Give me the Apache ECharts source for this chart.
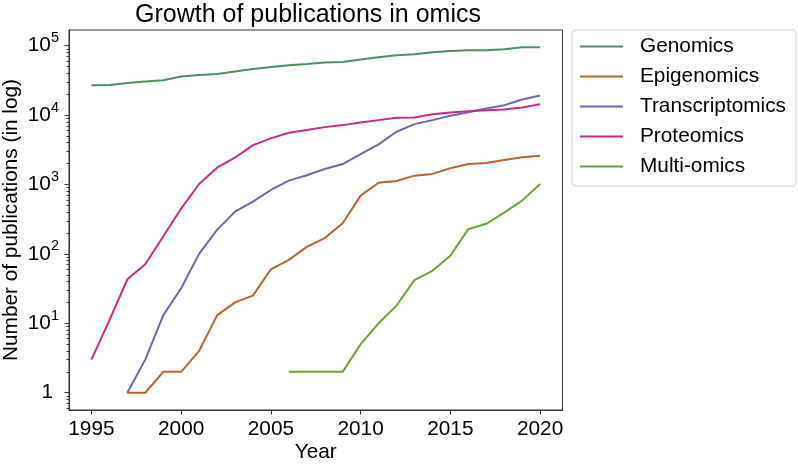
<!DOCTYPE html>
<html>
<head>
<meta charset="utf-8">
<script src="https://cdn.jsdelivr.net/npm/echarts@6/dist/echarts.min.js"></script>
<style>
html,body{margin:0;padding:0;background:#fff;}
#chart{width:798px;height:465px;}
</style>
</head>
<body>
<div id="chart"></div>
<script>
// ---- data ----
var years = [1995,1996,1997,1998,1999,2000,2001,2002,2003,2004,2005,2006,2007,2008,2009,2010,2011,2012,2013,2014,2015,2016,2017,2018,2019,2020];
var genomics = [26900,27000,29000,30400,31700,35900,37800,39100,42300,46100,49300,52100,54400,57000,58200,63000,67900,72600,75000,80100,83700,85600,85600,88500,94600,94600];
var epigenomics = [null,null,1,1,2,2,4,13,20,25,60,82,126,169,277,690,1060,1120,1340,1420,1710,1970,2035,2250,2460,2590];
var transcriptomics = [null,null,1,3,13,32,100,222,406,566,833,1135,1360,1670,1970,2740,3780,5740,7400,8450,9740,11000,12440,13870,16740,19130];
var proteomics = [3,11,43,71,178,450,1016,1742,2426,3690,4610,5550,6100,6700,7160,7830,8450,9120,9230,10300,10900,11370,11750,12000,12850,14340];
var multiomics = [null,null,null,null,null,null,null,null,null,null,null,2,2,2,2,5,10,18,42,57,94,227,271,393,585,1016];
var seriesNames = ['Genomics','Epigenomics','Transcriptomics','Proteomics','Multi-omics'];
var seriesValues = [genomics, epigenomics, transcriptomics, proteomics, multiomics];
var xTickLabels = [1995,2000,2005,2010,2015,2020];
var yTickValues = [1,10,100,1000,10000,100000];

var colors = ['#4d8f63','#c0622a','#6f66b2','#cc2a80','#6aa530'];
var FONT = 'Liberation Sans, Arial, Helvetica, sans-serif';
var FS = 20.8;

var yMin = 0.564, yMax = 167900;
var minorTicks = [];
for (var k = -1; k <= 5; k++) {
  for (var m = 2; m <= 9; m++) {
    var v = m * Math.pow(10, k);
    if (v >= yMin && v <= yMax) minorTicks.push(v);
  }
}

function pairs(vals) {
  var out = [];
  for (var i = 0; i < years.length; i++) {
    if (vals[i] !== null) out.push([years[i], vals[i]]);
  }
  return out;
}

var chart = echarts.init(document.getElementById('chart'), null, {renderer: 'canvas'});
var option = {
  animation: false,
  backgroundColor: '#fff',
  title: {
    text: 'Growth of publications in omics',
    left: 308, top: 3, textAlign: 'center', padding: 0,
    textStyle: {fontFamily: FONT, fontSize: 25, fontWeight: 'normal', color: '#000'}
  },
  legend: {
    orient: 'vertical', left: 572, top: 30,
    padding: [6, 10, 9, 8],
    icon: 'rect',
    itemWidth: 43, itemHeight: 2, itemGap: 9,
    borderColor: '#cccccc', borderWidth: 1, borderRadius: 4,
    textStyle: {fontFamily: FONT, fontSize: FS, color: '#000', padding: [0,0,0,12], lineHeight: 21},
    data: seriesNames
  },
  grid: {
    left: 69, top: 30, width: 493.5, height: 380,
    containLabel: false, outerBoundsMode: 'none',
    show: true, borderColor: '#333', borderWidth: 1, backgroundColor: 'transparent'
  },
  xAxis: {
    type: 'value', min: 1993.75, max: 2021.25,
    name: 'Year', nameLocation: 'middle', nameGap: 31.5, nameMoveOverlap: false,
    nameTextStyle: {fontFamily: FONT, fontSize: FS, color: '#000'},
    axisLine: {show: true, lineStyle: {color: '#333'}},
    axisTick: {show: true, length: 4.5, lineStyle: {color: '#333'}, customValues: xTickLabels},
    axisLabel: {fontFamily: FONT, fontSize: FS, color: '#000', margin: 9, customValues: xTickLabels,
      formatter: function (v) { return String(Math.round(v)); }},
    splitLine: {show: false}
  },
  yAxis: [{
    type: 'log', logBase: 10, min: yMin, max: yMax,
    name: 'Number of publications (in log)', nameLocation: 'middle', nameGap: 47, nameMoveOverlap: false,
    nameTextStyle: {fontFamily: FONT, fontSize: FS, color: '#000'},
    axisLine: {show: true, lineStyle: {color: '#333'}},
    axisTick: {show: true, length: 4.5, lineStyle: {color: '#333'}, customValues: yTickValues},
    axisLabel: {
      margin: 10, customValues: yTickValues,
      formatter: function (v) {
        var e = Math.round(Math.log10(v));
        if (e === 0) return '{one|1}';
        return '{b|10}{s|' + e + '}';
      },
      rich: {
        b: {fontFamily: FONT, fontSize: FS, color: '#000', lineHeight: 30},
        one: {fontFamily: FONT, fontSize: FS, color: '#000', lineHeight: 30, padding: [0, 6, 0, 0]},
        s: {fontFamily: FONT, fontSize: 14.5, color: '#000', lineHeight: 14, verticalAlign: 'top'}
      }
    },
    splitLine: {show: false}
  }, {
    type: 'log', logBase: 10, min: yMin, max: yMax, position: 'left', offset: 0,
    axisLine: {show: false},
    axisTick: {show: true, length: 2.5, lineStyle: {color: '#333'}, customValues: minorTicks},
    axisLabel: {show: false},
    splitLine: {show: false}
  }],
  series: seriesNames.map(function (name, i) {
    return {
      name: name, type: 'line', yAxisIndex: 0,
      data: pairs(seriesValues[i]),
      symbol: 'none', showSymbol: false,
      lineStyle: {width: 2, color: colors[i]},
      itemStyle: {color: colors[i]}
    };
  })
};
chart.setOption(option);
</script>
</body>
</html>
